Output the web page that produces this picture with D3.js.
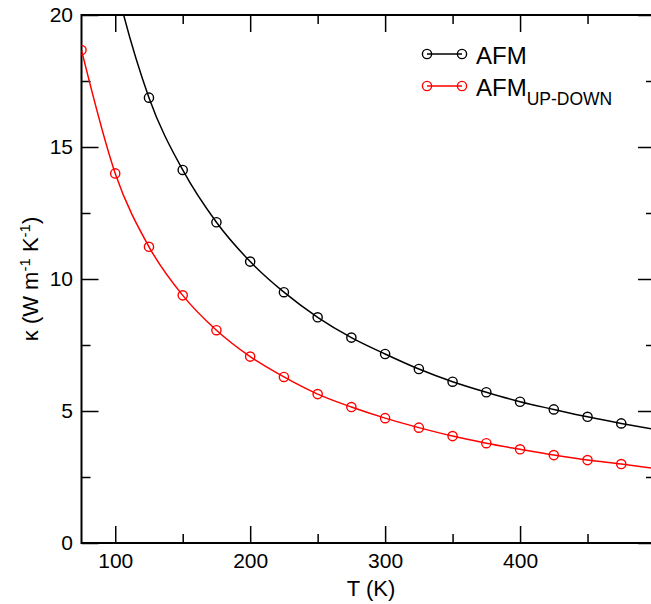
<!DOCTYPE html>
<html>
<head>
<meta charset="utf-8">
<script src="https://cdn.jsdelivr.net/npm/d3@7"></script>
<style>
  body { margin: 0; background: #fff; }
  text { font-family: "Liberation Sans", Arial, Helvetica, sans-serif; fill: #000; }
</style>
</head>
<body>
<div id="chart"></div>
<script>
// temperatures (K) and thermal conductivity kappa (W m^-1 K^-1)
var temps = [75, 100, 125, 150, 175, 200, 225, 250, 275, 300, 325, 350, 375, 400, 425, 450, 475, 500];
var afm = [28.0, 21.3, 16.87, 14.13, 12.15, 10.66, 9.50, 8.55, 7.78, 7.16, 6.59, 6.11, 5.71, 5.35, 5.06, 4.78, 4.53, 4.30];
var afmUpDown = [18.67, 14.0, 11.22, 9.38, 8.06, 7.06, 6.29, 5.64, 5.15, 4.73, 4.37, 4.05, 3.78, 3.55, 3.33, 3.14, 2.99, 2.82];

var xMajor = [100, 200, 300, 400];
var xMinor = [150, 250, 350, 450];
var yMajor = [0, 5, 10, 15, 20];
var yMinor = [2.5, 7.5, 12.5, 17.5];

var seriesNames = ["AFM", "AFM"];
var seriesSubs = ["", "UP-DOWN"];
var seriesColors = ["#000000", "#ff0000"];

var W = 651, H = 604;
var pLeft = 81.5, pTop = 15, pRight = 655, pBottom = 543;

var svg = d3.select("#chart").append("svg")
    .attr("width", W)
    .attr("height", H);

var x = d3.scaleLinear([75, 500], [pLeft, pRight]);
var y = d3.scaleLinear([0, 20], [pBottom, pTop]);

svg.append("defs").append("clipPath")
    .attr("id", "plotclip")
    .append("rect")
    .attr("x", pLeft).attr("y", pTop)
    .attr("width", pRight - pLeft).attr("height", pBottom - pTop);

// ticks (inward, on all four sides)
function tickAxis(axis, pos, values, size, labels) {
    var g = svg.append("g")
        .attr("transform", pos)
        .call(axis.tickValues(values).tickSize(-size).tickPadding(labels ? 10.5 : 0)
            .tickFormat(labels ? d3.format("d") : ""));
    g.select(".domain").remove();
    g.selectAll(".tick line").attr("stroke", "#000").attr("stroke-width", 1.5);
    g.selectAll("text").attr("font-size", 21).attr("font-family", null).attr("fill", "#000");
    return g;
}
tickAxis(d3.axisBottom(x), `translate(0,${pBottom})`, xMajor, 17, true);
tickAxis(d3.axisBottom(x), `translate(0,${pBottom})`, xMinor, 9, false);
tickAxis(d3.axisTop(x), `translate(0,${pTop})`, xMajor, 17, false);
tickAxis(d3.axisTop(x), `translate(0,${pTop})`, xMinor, 9, false);
tickAxis(d3.axisLeft(y), `translate(${pLeft},0)`, yMajor, 17, true)
    .selectAll("text").attr("x", -8.5);
tickAxis(d3.axisLeft(y), `translate(${pLeft},0)`, yMinor, 9, false);
tickAxis(d3.axisRight(y), `translate(${pRight},0)`, yMajor, 17, false);
tickAxis(d3.axisRight(y), `translate(${pRight},0)`, yMinor, 9, false);

// frame
svg.append("rect")
    .attr("x", pLeft).attr("y", pTop)
    .attr("width", pRight - pLeft).attr("height", pBottom - pTop)
    .attr("fill", "none")
    .attr("stroke", "#000")
    .attr("stroke-width", 2);

// series
var series = [afm, afmUpDown];
var line = d3.line()
    .x(d => x(d.T))
    .y(d => y(d.v))
    .curve(d3.curveMonotoneX);

var plot = svg.append("g").attr("clip-path", "url(#plotclip)");
series.forEach(function(vals, i) {
    var pts = temps.map((t, j) => ({ T: t, v: vals[j] }));
    plot.append("path")
        .datum(pts)
        .attr("d", line)
        .attr("fill", "none")
        .attr("stroke", seriesColors[i])
        .attr("stroke-width", 1.5);
    plot.selectAll(null)
        .data(pts.filter(d => d.T < 500))
        .join("circle")
        .attr("cx", d => x(d.T))
        .attr("cy", d => y(d.v))
        .attr("r", 4.6)
        .attr("fill", "none")
        .attr("stroke", seriesColors[i])
        .attr("stroke-width", 1.4);
});

// legend
var legend = svg.append("g");
seriesNames.forEach(function(name, i) {
    var ly = 54 + i * 32;
    legend.append("line")
        .attr("x1", 427).attr("x2", 462)
        .attr("y1", ly).attr("y2", ly)
        .attr("stroke", seriesColors[i])
        .attr("stroke-width", 1.5);
    [427, 462].forEach(function(cx) {
        legend.append("circle")
            .attr("cx", cx).attr("cy", ly).attr("r", 4.6)
            .attr("fill", "none")
            .attr("stroke", seriesColors[i])
            .attr("stroke-width", 1.4);
    });
    var t = legend.append("text")
        .attr("x", 476)
        .attr("y", ly + 9.5)
        .attr("font-size", 24)
        .text(name);
    if (seriesSubs[i]) {
        t.append("tspan")
            .attr("font-size", 17.5)
            .attr("dy", 9)
            .text(seriesSubs[i]);
    }
});

// axis titles
svg.append("text")
    .attr("x", 371)
    .attr("y", 596)
    .attr("text-anchor", "middle")
    .attr("font-size", 22)
    .text("T (K)");

var yt = svg.append("text")
    .attr("transform", "translate(38,279) rotate(-90)")
    .attr("text-anchor", "middle")
    .attr("font-size", 22);
yt.append("tspan").text("\u03ba (W m");
yt.append("tspan").attr("font-size", 15).attr("dy", -8).text("-1");
yt.append("tspan").attr("dy", 8).text(" K");
yt.append("tspan").attr("font-size", 15).attr("dy", -8).text("-1");
yt.append("tspan").attr("dy", 8).text(")");
</script>
</body>
</html>
